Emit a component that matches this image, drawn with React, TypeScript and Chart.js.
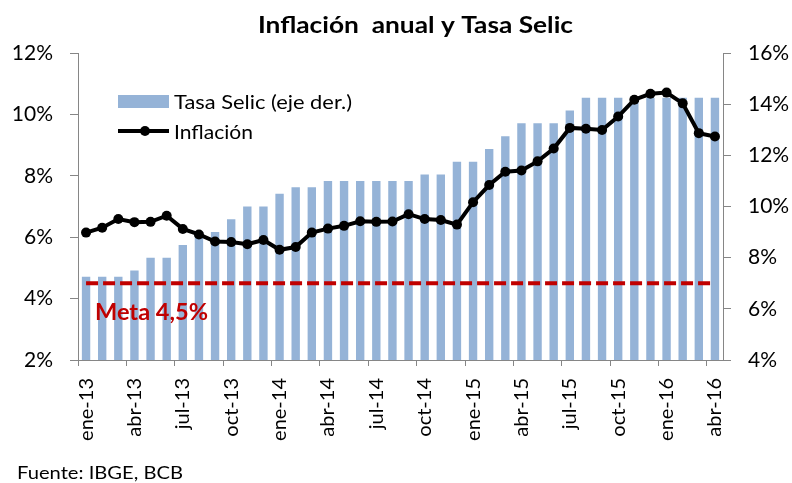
import React, { useEffect, useRef } from "react";
import { Chart, registerables } from "chart.js";

Chart.register(...registerables);

const months = [
  "ene-13", "feb-13", "mar-13", "abr-13", "may-13", "jun-13", "jul-13", "ago-13", "sep-13", "oct-13", "nov-13", "dic-13",
  "ene-14", "feb-14", "mar-14", "abr-14", "may-14", "jun-14", "jul-14", "ago-14", "sep-14", "oct-14", "nov-14", "dic-14",
  "ene-15", "feb-15", "mar-15", "abr-15", "may-15", "jun-15", "jul-15", "ago-15", "sep-15", "oct-15", "nov-15", "dic-15",
  "ene-16", "feb-16", "mar-16", "abr-16",
];

const selic = [
  7.25, 7.25, 7.25, 7.5, 8.0, 8.0, 8.5, 9.0, 9.0, 9.5, 10.0, 10.0,
  10.5, 10.75, 10.75, 11.0, 11.0, 11.0, 11.0, 11.0, 11.0, 11.25, 11.25, 11.75,
  11.75, 12.25, 12.75, 13.25, 13.25, 13.25, 13.75, 14.25, 14.25, 14.25, 14.25, 14.25,
  14.25, 14.25, 14.25, 14.25,
];

const inflacion = [
  6.15, 6.31, 6.59, 6.49, 6.5, 6.7, 6.27, 6.09, 5.86, 5.84, 5.77, 5.91,
  5.59, 5.68, 6.15, 6.28, 6.37, 6.52, 6.5, 6.51, 6.75, 6.59, 6.56, 6.41,
  7.14, 7.7, 8.13, 8.17, 8.47, 8.89, 9.56, 9.53, 9.49, 9.93, 10.48, 10.67,
  10.71, 10.36, 9.39, 9.28,
];

const metaValue = 4.5;
const metaSeries = months.map(() => metaValue);

const leftAxis = { min: 2, max: 12, step: 2 };
const rightAxis = { min: 4, max: 16, step: 2 };

const TITLE = "Inflación  anual y Tasa Selic";
const LEGEND_BAR = "Tasa Selic (eje der.)";
const LEGEND_LINE = "Inflación";
const META_LABEL = "Meta 4,5%";
const SOURCE = "Fuente: IBGE, BCB";

const FONT = "Lato";
const BAR_COLOR = "#95B3D7";
const META_COLOR = "#C00000";
const AXIS_COLOR = "#868686";

function stretchText(
  ctx: CanvasRenderingContext2D,
  text: string,
  left: number,
  baseline: number,
  font: string,
  width: number,
  color: string
) {
  ctx.save();
  ctx.font = font;
  ctx.fillStyle = color;
  ctx.textAlign = "left";
  ctx.textBaseline = "alphabetic";
  const w = ctx.measureText(text).width || 1;
  const sx = width / w;
  ctx.translate(left, baseline);
  ctx.scale(sx, 1);
  ctx.fillText(text, 0, 0);
  ctx.restore();
}

const overlay = {
  id: "overlay",
  afterDraw(chart: any) {
    const ctx = chart.ctx as CanvasRenderingContext2D;
    ctx.save();

    // title
    stretchText(ctx, TITLE, 258, 33, `bold 22px ${FONT}`, 315, "#000");

    // legend: bar
    ctx.fillStyle = BAR_COLOR;
    ctx.fillRect(118, 95, 51, 13);
    stretchText(ctx, LEGEND_BAR, 174, 109, `20px ${FONT}`, 178, "#000");

    // legend: line
    ctx.strokeStyle = "#000";
    ctx.fillStyle = "#000";
    ctx.lineWidth = 4;
    ctx.beginPath();
    ctx.moveTo(118, 131);
    ctx.lineTo(169, 131);
    ctx.stroke();
    ctx.beginPath();
    ctx.arc(145, 131, 5, 0, Math.PI * 2);
    ctx.fill();
    stretchText(ctx, LEGEND_LINE, 174, 139, `20px ${FONT}`, 79, "#000");

    // meta label
    stretchText(ctx, META_LABEL, 95, 320, `bold 22px ${FONT}`, 113, META_COLOR);

    // source
    stretchText(ctx, SOURCE, 17, 479, `17px ${FONT}`, 166, "#000");

    ctx.restore();
  },
};

export default function App() {
  const ref = useRef<HTMLCanvasElement | null>(null);

  useEffect(() => {
    if (!ref.current) return;
    const chart = new Chart(ref.current, {
      type: "bar",
      data: {
        labels: months,
        datasets: [
          {
            type: "line",
            label: LEGEND_LINE,
            data: inflacion,
            yAxisID: "yL",
            borderColor: "#000",
            backgroundColor: "#000",
            borderWidth: 4,
            pointRadius: 5,
            pointBackgroundColor: "#000",
            pointBorderWidth: 0,
            tension: 0,
            order: 0,
          } as any,
          {
            type: "line",
            label: "Meta",
            data: metaSeries,
            yAxisID: "yL",
            borderColor: META_COLOR,
            borderWidth: 4,
            borderDash: [12, 5],
            borderCapStyle: "butt",
            pointRadius: 0,
            tension: 0,
            order: 1,
          } as any,
          {
            type: "bar",
            label: LEGEND_BAR,
            data: selic,
            yAxisID: "yR",
            backgroundColor: BAR_COLOR,
            barPercentage: 0.52,
            categoryPercentage: 1,
            order: 2,
          } as any,
        ],
      },
      options: {
        animation: false,
        responsive: true,
        maintainAspectRatio: false,
        layout: { padding: { top: 53, left: 0, right: 0, bottom: 0 } },
        plugins: {
          legend: { display: false },
          title: { display: false },
          tooltip: { enabled: false },
        },
        scales: {
          x: {
            offset: true,
            afterFit(scale: any) {
              scale.height = 123;
            },
            grid: {
              offset: true,
              drawOnChartArea: false,
              drawTicks: true,
              tickLength: 6,
              color: (c: any) => (c.index % 3 === 0 ? AXIS_COLOR : "rgba(0,0,0,0)"),
            },
            border: { display: true, color: AXIS_COLOR, width: 1 },
            ticks: {
              autoSkip: false,
              minRotation: 90,
              maxRotation: 90,
              padding: 12,
              color: "#000",
              font: { family: FONT, size: 20 },
              callback: (_v: any, i: number) => (i % 3 === 0 ? months[i] : ""),
            },
          },
          yL: {
            position: "left",
            min: leftAxis.min,
            max: leftAxis.max,
            afterFit(scale: any) {
              scale.width = 78;
            },
            grid: {
              drawOnChartArea: false,
              drawTicks: true,
              tickLength: 8,
              color: AXIS_COLOR,
            },
            border: { display: true, color: AXIS_COLOR, width: 1 },
            ticks: {
              stepSize: leftAxis.step,
              padding: 17,
              color: "#000",
              font: { family: FONT, size: 21 },
              callback: (v: any) => `${v}%`,
            },
          },
          yR: {
            position: "right",
            min: rightAxis.min,
            max: rightAxis.max,
            afterFit(scale: any) {
              scale.width = 69;
            },
            grid: {
              drawOnChartArea: false,
              drawTicks: true,
              tickLength: 8,
              color: AXIS_COLOR,
            },
            border: { display: true, color: AXIS_COLOR, width: 1 },
            ticks: {
              stepSize: rightAxis.step,
              padding: 17,
              color: "#000",
              font: { family: FONT, size: 21 },
              callback: (v: any) => `${v}%`,
            },
          },
        },
      },
      plugins: [overlay],
    });
    return () => chart.destroy();
  }, []);

  return (
    <div style={{ position: "absolute", left: 0, top: 0, width: 792, height: 483, background: "#fff" }}>
      <canvas ref={ref} />
    </div>
  );
}
